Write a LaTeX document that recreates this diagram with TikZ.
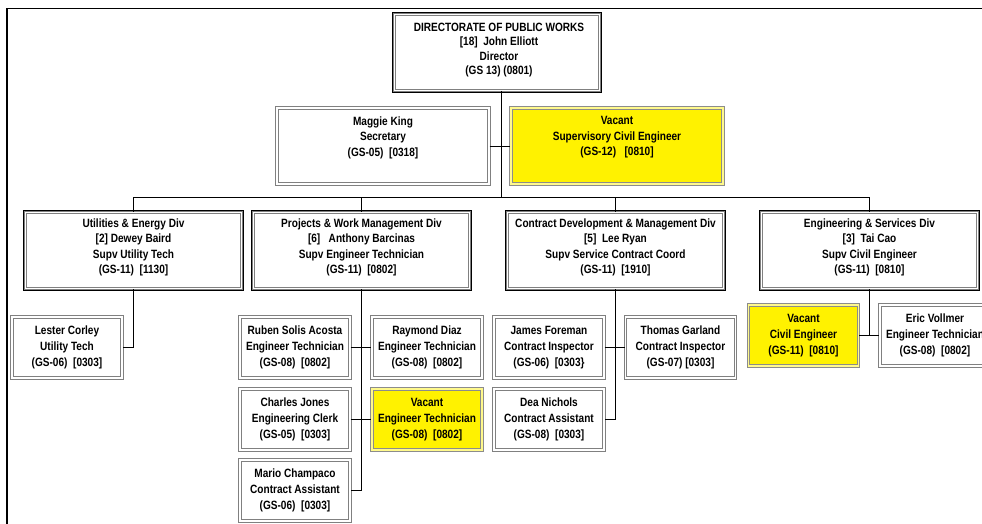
\documentclass[tikz,border=0pt]{standalone}
\usepackage{fontspec}
\setmainfont{Liberation Sans}[FakeStretch=0.84]
\usetikzlibrary{shadows}
\begin{document}
\begin{tikzpicture}[x=1pt,y=-1pt,
  every node/.style={align=center, inner sep=0pt},
  txt/.style={font=\fontsize{12}{15.5}\selectfont\bfseries},
  txtS/.style={font=\fontsize{12}{16}\selectfont\bfseries},
  box/.style={draw=black!50, double=white, double distance=1.2pt, line width=1.1pt, fill=white},
  vac/.style={box, fill=yellow, double=yellow!45!white, draw=black!45},
  shadowbox/.style={drop shadow={shadow xshift=1.8pt, shadow yshift=-1.8pt, fill=black, opacity=1},
                    preaction={draw=black, line width=5pt}},
  small/.style={minimum width=110pt, minimum height=61pt, txtS},
  div/.style={box, shadowbox, minimum width=216pt, minimum height=76pt},
  conn/.style={draw=black, line width=1pt}
]
\useasboundingbox (0,0) rectangle (982,523);
\clip (0,0) rectangle (982,523);
\fill[white] (0,0) rectangle (982,523);
% frame
\draw[line width=1.8pt] (7,540) -- (7,8.5) -- (1000,8.5);

% top
\node[box, shadowbox, minimum width=205pt, minimum height=76pt] (top) at (497,52.5) {};
\node[font=\fontsize{12}{14.5}\selectfont\bfseries] (topT) at (499,50) {DIRECTORATE OF PUBLIC WORKS\\{}[18]\ \ John Elliott\\Director\\(GS 13) (0801)};

% second row
\node[box, minimum width=212pt, minimum height=76pt] (sec) at (383,146) {};
\node[txt] (secT) at (383,137.5) {Maggie King\\Secretary\\(GS-05)\ \ [0318]};
\node[vac, minimum width=212pt, minimum height=76pt] (vacS) at (617,146) {};
\node[txt] (vacST) at (617,137.5) {Vacant\\Supervisory Civil Engineer\\(GS-12)\ \ \ [0810]};

% divisions
\node[div] (util) at (133.5,250.5) {};
\node[txt] (utilT) at (133.5,247.5) {Utilities \& Energy Div\\{}[2] Dewey Baird\\Supv Utility Tech\\(GS-11)\ \ [1130]};
\node[div] (proj) at (361.5,250.5) {};
\node[txt] (projT) at (361.5,247.5) {Projects \& Work Management Div\\{}[6]\ \ \ Anthony Barcinas\\Supv Engineer Technician\\(GS-11)\ \ [0802]};
\node[div] (cd) at (615.5,250.5) {};
\node[txt] (cdT) at (615.5,247.5) {Contract Development \& Management Div\\{}[5]\ \ Lee Ryan\\Supv Service Contract Coord\\(GS-11)\ \ [1910]};
\node[div] (es) at (869.5,250.5) {};
\node[txt] (esT) at (869.5,247.5) {Engineering \& Services Div\\{}[3]\ \ Tai Cao\\Supv Civil Engineer\\(GS-11)\ \ [0810]};

% staff
\node[box, small] (lester) at (67,347.5) {Lester Corley\\Utility Tech\\(GS-06)\ \ [0303]};
\node[box, small] (ruben) at (295,347.5) {Ruben Solis Acosta\\Engineer Technician\\(GS-08)\ \ [0802]};
\node[box, small] (raymond) at (427,347.5) {Raymond Diaz\\Engineer Technician\\(GS-08)\ \ [0802]};
\node[box, small] (charles) at (295,419.5) {Charles Jones\\Engineering Clerk\\(GS-05)\ \ [0303]};
\node[vac, small] (vacET) at (427,419.5) {Vacant\\Engineer Technician\\(GS-08)\ \ [0802]};
\node[box, small] (mario) at (295,490.5) {Mario Champaco\\Contract Assistant\\(GS-06)\ \ [0303]};
\node[box, small] (james) at (549,347.5) {James Foreman\\Contract Inspector\\(GS-06)\ \ [0303\}};
\node[box, small] (thomas) at (680.5,347.5) {Thomas Garland\\Contract Inspector\\(GS-07) [0303]};
\node[box, small] (dea) at (549,419.5) {Dea Nichols\\Contract Assistant\\(GS-08)\ \ [0303]};
\node[vac, small] (vacCE) at (803.5,335.5) {Vacant\\Civil Engineer\\(GS-11)\ \ [0810]};
\node[box, small] (eric) at (935,335.5) {Eric Vollmer\\Engineer Technician\\(GS-08)\ \ [0802]};

% connectors
\coordinate (bus) at (501,197);
\draw[conn] (top.south -| bus) -- (bus);
\draw[conn] (sec.east) -- (vacS.west);
\draw[conn] (util.north) |- (es.north |- bus) -- (es.north);
\draw[conn] (proj.north) -- (proj.north |- bus);
\draw[conn] (cd.north) -- (cd.north |- bus);
\draw[conn] (util.south) |- (lester.east);
\draw[conn] (proj.south) |- (mario.east);
\draw[conn] (ruben.east) -- (raymond.west);
\draw[conn] (charles.east) -- (vacET.west);
\draw[conn] (cd.south) |- (dea.east);
\draw[conn] (james.east) -- (thomas.west);
\draw[conn] (es.south) -- (es.south |- vacCE.east);
\draw[conn] (vacCE.east) -- (eric.west);
\end{tikzpicture}
\end{document}
